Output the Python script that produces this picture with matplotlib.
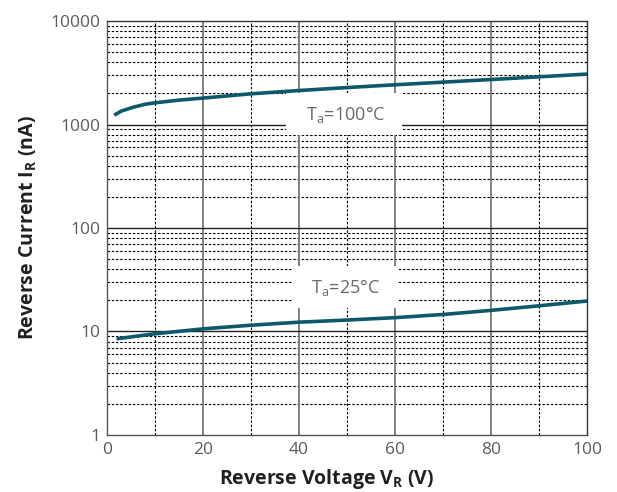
import matplotlib.pyplot as plt
import numpy as np

plt.rcParams['font.family'] = ['Open Sans', 'DejaVu Sans']
plt.rcParams['mathtext.fontset'] = 'custom'
plt.rcParams['mathtext.rm'] = 'Open Sans'
plt.rcParams['mathtext.bf'] = 'Open Sans:bold'

# ---- data ----
vr_100 = [1.5, 3, 5.5, 8, 10, 15, 20, 30, 40, 50, 60, 70, 80, 90, 100]
ir_100 = [1230, 1350, 1470, 1570, 1620, 1720, 1800, 1980, 2130, 2275, 2420, 2565, 2720, 2890, 3070]

vr_25 = [2, 10, 20, 30, 40, 50, 60, 70, 80, 90, 100]
ir_25 = [8.5, 9.5, 10.6, 11.5, 12.3, 12.9, 13.6, 14.6, 16.0, 17.7, 19.7]

x_ticks = [0, 20, 40, 60, 80, 100]
y_ticks = [1, 10, 100, 1000, 10000]
y_ticklabels = ["1", "10", "100", "1000", "10000"]

line_color = "#0e586b"
grid_gray = "#7a7676"

fig = plt.figure(figsize=(6.17, 4.92), dpi=100)
ax = fig.add_axes([0.1734, 0.1159, 0.778, 0.8414])
ax.set_yscale("log")
ax.set_xlim(0, 100)
ax.set_ylim(1, 10000)

# grid: dashed minor lines
for x in range(10, 100, 20):
    ax.axvline(x, color="black", linestyle=(0, (2.2, 1.6)), linewidth=0.8, zorder=1)
for dec in [1, 10, 100, 1000]:
    for m in range(2, 10):
        ax.axhline(dec * m, color="black", linestyle=(0, (2.2, 1.6)), linewidth=0.8, zorder=1)
# solid major lines
for x in [20, 40, 60, 80]:
    ax.axvline(x, color=grid_gray, linewidth=1.3, zorder=1)
for y in [10, 100, 1000]:
    ax.axhline(y, color="#222222", linewidth=1.0, zorder=1)

ax.plot(vr_100, ir_100, color=line_color, linewidth=2.6, zorder=4, solid_capstyle="butt")
ax.plot(vr_25, ir_25, color=line_color, linewidth=2.6, zorder=4, solid_capstyle="butt")

box = dict(facecolor="white", edgecolor="none", boxstyle="square,pad=0.6")
ax.text(49.4, 1117, "  " + r"T$_\mathregular{a}$=100°C" + "  ", ha="center", va="baseline",
        fontsize=13, color="#6a6a6a", bbox=box, zorder=3)
ax.text(49.4, 23.8, "  " + r"T$_\mathregular{a}$=25°C" + "  ", ha="center", va="baseline",
        fontsize=13, color="#6a6a6a", bbox=box, zorder=3)

ax.set_xticks(x_ticks)
ax.set_yticks(y_ticks)
ax.set_yticklabels(y_ticklabels)
ax.minorticks_off()
ax.tick_params(length=0, labelsize=12.5, labelcolor="#5a5a5a", pad=5)

for s in ax.spines.values():
    s.set_color("#333333")
    s.set_linewidth(1.0)
ax.spines["left"].set_color("#555555")
ax.spines["bottom"].set_color("#555555")

ax.set_xlabel(r"Reverse Voltage V$_\mathbf{R}$ (V)", fontsize=14,
              fontweight="bold", color="#231f20")
ax.set_ylabel(r"Reverse Current I$_\mathbf{R}$ (nA)", fontsize=14,
              fontweight="bold", color="#231f20", labelpad=8)
ax.xaxis.set_label_coords(0.458, -0.078)

fig.savefig("out.png", dpi=100)
